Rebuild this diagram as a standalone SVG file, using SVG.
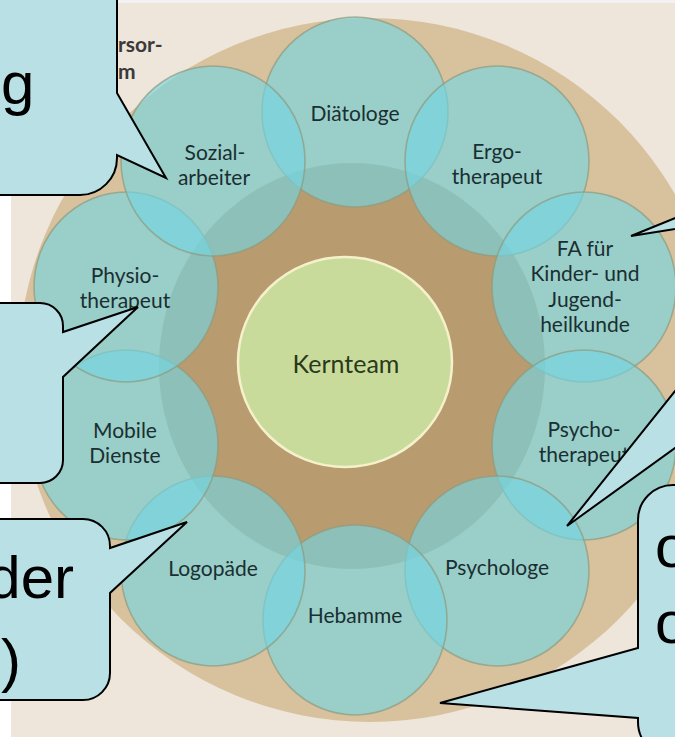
<svg xmlns="http://www.w3.org/2000/svg" width="675" height="737" viewBox="0 0 675 737">
<style>
.sat{fill:rgb(115,214,226);fill-opacity:0.63;stroke:#8f9a7c;stroke-opacity:0.7;stroke-width:1.6}
.lbl{font-family:Lato,"Liberation Sans",sans-serif;font-size:21px;fill:#1a2f31;text-anchor:middle}
.call{fill:#b9e0e4;stroke:#000;stroke-width:2;stroke-linejoin:miter}
.big{font-family:"Liberation Sans",Arial,sans-serif;font-size:60px;fill:#000}
.ttl{font-family:Lato,"Liberation Sans",sans-serif;font-size:21px;font-weight:bold;fill:#3a3a3a}
</style>
<rect x="0" y="0" width="675" height="737" fill="#ffffff"/>
<rect x="11" y="0" width="664" height="737" fill="#eee5db"/>
<rect x="11" y="0" width="664" height="3" fill="#f2f2f2"/>
<g id="background">
<circle cx="370" cy="370" r="352" fill="#d8c29e"/>
<ellipse cx="352" cy="366" rx="193" ry="203" fill="#b89c70"/>
</g>
<g id="title">
<text class="ttl" x="118" y="52">rsor-</text>
<text class="ttl" x="118" y="79">m</text>
</g>
<g id="satellites">
<g id="n-diaetologe"><ellipse class="sat" cx="355" cy="112" rx="93" ry="95"/><text class="lbl" x="355" y="121">Diätologe</text></g>
<g id="n-ergo"><ellipse class="sat" cx="497" cy="161" rx="92" ry="95"/><text class="lbl" x="497" y="159">Ergo-</text><text class="lbl" x="497" y="184">therapeut</text></g>
<g id="n-fa"><ellipse class="sat" cx="584" cy="287" rx="92" ry="95"/><text class="lbl" x="585" y="256">FA für</text><text class="lbl" x="585" y="281">Kinder- und</text><text class="lbl" x="585" y="307">Jugend-</text><text class="lbl" x="585" y="332">heilkunde</text></g>
<g id="n-psychotherapeut"><ellipse class="sat" cx="584" cy="445" rx="92" ry="95"/><text class="lbl" x="584" y="437">Psycho-</text><text class="lbl" x="584" y="462">therapeut</text></g>
<g id="n-psychologe"><ellipse class="sat" cx="497" cy="571" rx="92" ry="95"/><text class="lbl" x="497" y="575">Psychologe</text></g>
<g id="n-hebamme"><ellipse class="sat" cx="355" cy="620" rx="92" ry="95"/><text class="lbl" x="355" y="623">Hebamme</text></g>
<g id="n-logopaede"><ellipse class="sat" cx="213" cy="571" rx="92" ry="95"/><text class="lbl" x="213" y="576">Logopäde</text></g>
<g id="n-mobile"><ellipse class="sat" cx="126" cy="445" rx="92" ry="95"/><text class="lbl" x="125" y="438">Mobile</text><text class="lbl" x="125" y="463">Dienste</text></g>
<g id="n-physio"><ellipse class="sat" cx="126" cy="287" rx="92" ry="95"/><text class="lbl" x="125" y="283">Physio-</text><text class="lbl" x="125" y="308">therapeut</text></g>
<g id="n-sozial"><ellipse class="sat" cx="213" cy="161" rx="92" ry="95"/><text class="lbl" x="215" y="160">Sozial-</text><text class="lbl" x="214" y="185">arbeiter</text></g>
</g>
<g id="n-kernteam">
<ellipse cx="345" cy="362" rx="107" ry="105" fill="#c9db9b" stroke="#f5f1cc" stroke-width="2.5"/>
<text x="346" y="373" font-family="Lato,'Liberation Sans',sans-serif" font-size="25" fill="#2a391b" text-anchor="middle">Kernteam</text>
</g>
<g id="callouts">
<g id="c1"><path class="call" d="M-20,-20 H117 V93 L166,178 L117,155 V158 A37,37 0 0 1 80,195 H-20 Z"/><text class="big" x="1" y="104" font-size="64">g</text></g>
<g id="c2"><path class="call" d="M-20,303 H40 A23,23 0 0 1 63,326 V332 L138,307 L63,377 V460 A23,23 0 0 1 40,483 H-20 Z"/></g>
<g id="c3"><path class="call" d="M-20,519 H83 A27,27 0 0 1 110,546 V548 L187,522 L110,593 V673 A27,27 0 0 1 83,700 H-20 Z"/><text class="big" x="74" y="598" text-anchor="end">der</text><text class="big" x="21" y="681" text-anchor="end">)</text></g>
<g id="c4"><path class="call" d="M631,236 L700,208 V225 Z"/></g>
<g id="c5"><path class="call" d="M567,526 L700,360 V430 Z"/></g>
<g id="c6"><path class="call" d="M720,485 H673 A35,35 0 0 0 638,520 V648 L440,703 L638,718 V722 A35,35 0 0 0 673,757 H720 Z"/><text class="big" x="655" y="567">o</text><text class="big" x="655" y="643">o</text></g>
</g>
</svg>
